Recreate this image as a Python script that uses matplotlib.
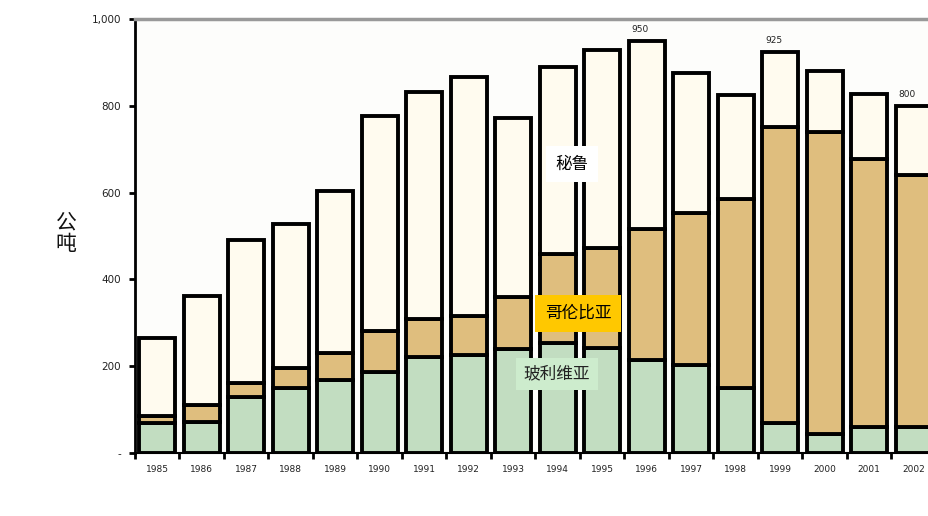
import matplotlib
matplotlib.use("Agg")
import matplotlib.pyplot as plt
import numpy as np

plt.rcParams['font.family'] = ['Noto Sans CJK SC', 'DejaVu Sans']

years = ['1985', '1986', '1987', '1988', '1989', '1990', '1991', '1992', '1993',
         '1994', '1995', '1996', '1997', '1998', '1999', '2000', '2001', '2002']
bolivia = [70, 72, 129, 150, 168, 187, 221, 226, 240, 253, 242, 214, 203, 150, 69, 44, 60, 60]
colombia = [15, 38, 32, 46, 62, 94, 87, 90, 119, 205, 230, 302, 350, 435, 682, 696, 617, 581]
peru = [180, 252, 330, 332, 374, 495, 524, 550, 413, 431, 457, 434, 323, 240, 174, 140, 150, 159]
top_labels = {'1996': '950', '1999': '925', '2002': '800'}
yticks = [0, 200, 400, 600, 800, 1000]
yticklabels = ['-', '200', '400', '600', '800', '1,000']

fig = plt.figure(figsize=(9.29, 5.16), dpi=100)
fig.patch.set_facecolor('white')
ax = fig.add_axes([135/929, 1-453/516, (18*44.5)/929, (453-19)/516])
ax.set_facecolor('#fdfdfb')

x = np.arange(len(years))
b = np.array(bolivia)
c = np.array(colombia)
p = np.array(peru)
w = 0.82
lw = 2.8
ax.bar(x, b, width=w, color='#c2ddc1', edgecolor='black', linewidth=lw, zorder=3)
ax.bar(x, c, width=w, bottom=b, color='#dfbe7e', edgecolor='black', linewidth=lw, zorder=3)
ax.bar(x, p, width=w, bottom=b + c, color='#fffbef', edgecolor='black', linewidth=lw, zorder=3)

totals = b + c + p
for i, yr in enumerate(years):
    if yr in top_labels:
        ax.text(x[i] - 0.15, totals[i] + 16, top_labels[yr], fontsize=6.5,
                ha='center', va='bottom', family='DejaVu Sans', color='#222222', zorder=5)

ax.set_xlim(-0.5, len(years) - 0.5)
ax.set_ylim(0, 1000)
ax.set_xticks(x)
ax.set_xticklabels(years, fontsize=6.5, family='DejaVu Sans', color='#222222')
ax.set_xticks(np.arange(-0.5, len(years), 1), minor=True)
ax.tick_params(axis='x', which='major', length=0, pad=9)
ax.tick_params(axis='x', which='minor', length=4, width=2, color='black', direction='out')
ax.set_yticks(yticks)
ax.set_yticklabels(yticklabels, fontsize=7.5, family='DejaVu Sans', color='#222222')
ax.tick_params(axis='y', length=4, width=2, direction='out', pad=6)

ax.spines['right'].set_visible(False)
ax.spines['top'].set_color('#999999')
ax.spines['top'].set_linewidth(2.5)
ax.spines['left'].set_linewidth(2)
ax.spines['bottom'].set_linewidth(1.5)

fig.text(66/929, 1-233/516, '公\n吨', fontsize=15, ha='center', va='center',
         linespacing=1.0, color='#111111')

fig.text(572/929, 1-164/516, '秘鲁', fontsize=12, ha='center', va='center', zorder=10,
         bbox=dict(boxstyle='square,pad=0.55', facecolor='white', edgecolor='none'))
fig.text(578/929, 1-313/516, '哥伦比亚', fontsize=12, ha='center', va='center', zorder=10,
         bbox=dict(boxstyle='square,pad=0.6', facecolor='#ffc800', edgecolor='none'))
fig.text(557/929, 1-374/516, '玻利维亚', fontsize=12, ha='center', va='center', zorder=10,
         color='#222222',
         bbox=dict(boxstyle='square,pad=0.45', facecolor='#cdeccd', edgecolor='none'))

fig.savefig('out.png', dpi=100)
